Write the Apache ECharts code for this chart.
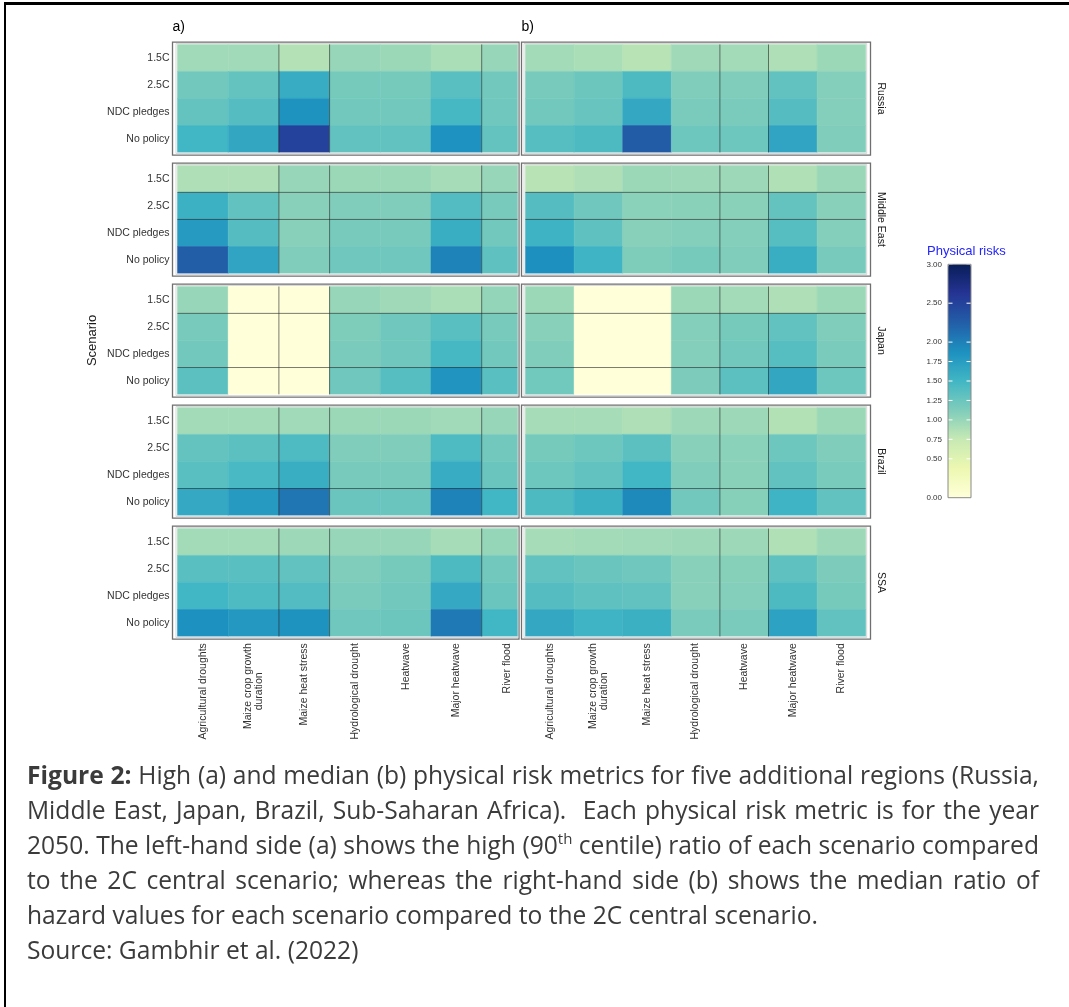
<!DOCTYPE html>
<html>
<head>
<meta charset="utf-8">
<script src="https://cdn.jsdelivr.net/npm/echarts@6/dist/echarts.min.js"></script>
<style>
html,body{margin:0;padding:0;background:#fff;overflow:hidden;width:1069px;height:1007px;}
#frame{position:absolute;left:4px;top:2px;width:1065px;height:1005px;border-left:2px solid #000;border-top:3px solid #000;box-sizing:border-box;}
#chart{position:absolute;left:0;top:0;width:1069px;height:760px;}
#caption{position:absolute;left:27px;top:757px;width:1012px;font-family:'Open Sans',sans-serif;font-size:24.6px;line-height:35px;color:#3b3b3b;}
#caption div{white-space:nowrap;}
#caption .j{white-space:normal;text-align:justify;text-align-last:justify;}
#caption sup{font-size:15px;line-height:0;vertical-align:10px;}
</style>
</head>
<body>
<div id="frame"></div>
<div id="chart"></div>
<div id="caption">
<div class="j"><b>Figure 2:</b> High (a) and median (b) physical risk metrics for five additional regions (Russia,</div>
<div class="j">Middle East, Japan, Brazil, Sub-Saharan Africa).&nbsp; Each physical risk metric is for the year</div>
<div class="j">2050. The left-hand side (a) shows the high (90<sup>th</sup> centile) ratio of each scenario compared</div>
<div class="j">to the 2C central scenario; whereas the right-hand side (b) shows the median ratio of</div>
<div>hazard values for each scenario compared to the 2C central scenario.</div>
<div>Source: Gambhir et al. (2022)</div>
</div>
<script>
// ---------------- data ----------------
const hazards = ['Agricultural droughts', 'Maize crop growth\nduration', 'Maize heat stress',
  'Hydrological drought', 'Heatwave', 'Major heatwave', 'River flood'];
const scenarios = ['1.5C', '2.5C', 'NDC pledges', 'No policy'];
const regions = ['Russia', 'Middle East', 'Japan', 'Brazil', 'SSA'];
const legendBreaks = [0, 0.5, 0.75, 1, 1.25, 1.5, 1.75, 2, 2.5, 3];

// (a) high (90th centile) ratio; rows = scenarios, columns = hazards
const highRussia = [
  [0.95, 0.95, 0.85, 1.00, 0.98, 0.90, 1.00],
  [1.20, 1.28, 1.60, 1.18, 1.18, 1.35, 1.20],
  [1.28, 1.38, 1.85, 1.20, 1.20, 1.47, 1.22],
  [1.50, 1.65, 2.50, 1.30, 1.30, 1.86, 1.28]];
const highMiddleEast = [
  [0.88, 0.88, 1.00, 0.98, 0.98, 0.92, 1.00],
  [1.55, 1.30, 1.08, 1.12, 1.12, 1.40, 1.17],
  [1.78, 1.38, 1.08, 1.17, 1.17, 1.58, 1.20],
  [2.25, 1.68, 1.12, 1.22, 1.22, 1.98, 1.32]];
const highJapan = [
  [1.00, 0, 0, 1.00, 0.96, 0.90, 1.02],
  [1.17, 0, 0, 1.13, 1.22, 1.35, 1.17],
  [1.20, 0, 0, 1.15, 1.22, 1.47, 1.20],
  [1.33, 0, 0, 1.22, 1.37, 1.83, 1.35]];
const highBrazil = [
  [0.94, 0.94, 0.95, 0.98, 0.98, 0.95, 1.00],
  [1.28, 1.33, 1.42, 1.12, 1.12, 1.42, 1.20],
  [1.35, 1.45, 1.58, 1.17, 1.17, 1.60, 1.25],
  [1.63, 1.78, 2.08, 1.25, 1.25, 1.98, 1.50]];
const highSSA = [
  [0.94, 0.94, 0.97, 1.00, 1.00, 0.92, 1.01],
  [1.35, 1.35, 1.30, 1.12, 1.18, 1.43, 1.20],
  [1.50, 1.42, 1.40, 1.15, 1.20, 1.63, 1.25],
  [1.87, 1.80, 1.85, 1.22, 1.24, 2.05, 1.50]];

// (b) median ratio
const medianRussia = [
  [0.94, 0.90, 0.83, 0.96, 0.94, 0.88, 0.98],
  [1.17, 1.24, 1.43, 1.12, 1.12, 1.30, 1.10],
  [1.20, 1.27, 1.64, 1.15, 1.15, 1.38, 1.10],
  [1.37, 1.43, 2.28, 1.23, 1.23, 1.68, 1.12]];
const medianMiddleEast = [
  [0.83, 0.88, 0.98, 0.97, 0.97, 0.87, 0.99],
  [1.38, 1.22, 1.06, 1.07, 1.07, 1.28, 1.08],
  [1.53, 1.32, 1.08, 1.10, 1.10, 1.37, 1.10],
  [1.88, 1.52, 1.13, 1.18, 1.12, 1.58, 1.17]];
const medianJapan = [
  [0.98, 0, 0, 0.98, 0.94, 0.88, 0.98],
  [1.08, 0, 0, 1.10, 1.18, 1.30, 1.12],
  [1.12, 0, 0, 1.10, 1.20, 1.37, 1.15],
  [1.21, 0, 0, 1.14, 1.33, 1.65, 1.23]];
const medianBrazil = [
  [0.92, 0.92, 0.88, 0.97, 0.97, 0.86, 0.98],
  [1.18, 1.23, 1.33, 1.08, 1.06, 1.23, 1.12],
  [1.23, 1.30, 1.50, 1.12, 1.07, 1.30, 1.16],
  [1.43, 1.56, 1.93, 1.20, 1.09, 1.52, 1.30]];
const medianSSA = [
  [0.92, 0.94, 0.95, 0.97, 0.97, 0.87, 0.97],
  [1.30, 1.25, 1.22, 1.08, 1.09, 1.32, 1.14],
  [1.38, 1.32, 1.30, 1.08, 1.10, 1.43, 1.18],
  [1.64, 1.52, 1.56, 1.15, 1.15, 1.70, 1.30]];

// dark tile seams visible in the source image (boundary indices)
const seamColsHigh = [2, 3, 6];
const seamColsMedian = [4, 5];
const seamRowsByRegion = [[], [1, 2], [1, 3], [3], []];

// ---------------- layout / style ----------------
const FONT = 'Liberation Sans, Arial, sans-serif';
const YLGNBU = ['#ffffd9', '#edf8b1', '#c7e9b4', '#7fcdbb', '#41b6c4', '#1d91c0', '#225ea8', '#253494', '#081d58'];
const panels = [
  { tag: 'a)', data: [highRussia, highMiddleEast, highJapan, highBrazil, highSSA], seams: seamColsHigh,
    left: 177.5, colW: 50.7, visRight: 518, borderL: 172.5, borderR: 519 },
  { tag: 'b)', data: [medianRussia, medianMiddleEast, medianJapan, medianBrazil, medianSSA], seams: seamColsMedian,
    left: 525.5, colW: 48.6, visRight: 865.7, borderL: 521.5, borderR: 870.5 }
];
const TOP0 = 44.3, PITCH = 121, FH = 108.3;

const grids = [], xAxes = [], yAxes = [], series = [], graphics = [], cellSeries = [];

function renderCell(params, api) {
  const c = api.coord([api.value(0), api.value(1)]);
  const s = api.size([1, 1]);
  const col = api.visual('color');
  return { type: 'rect', shape: { x: c[0] - s[0] / 2, y: c[1] - s[1] / 2, width: s[0], height: s[1] },
    style: { fill: col, stroke: col, lineWidth: 0.5 } };
}
function renderSeam(params, api) {
  const cs = params.coordSys;
  if (api.value(2) === 0) {
    const x = api.coord([api.value(0), 0])[0];
    return { type: 'line', shape: { x1: x, y1: cs.y, x2: x, y2: cs.y + cs.height },
      style: { stroke: 'rgba(35,35,35,0.6)', lineWidth: 1 } };
  }
  const i = api.value(1);
  const y = (api.coord([0, i - 1])[1] + api.coord([0, i])[1]) / 2;
  return { type: 'line', shape: { x1: cs.x, y1: y, x2: cs.x + cs.width, y2: y },
    style: { stroke: 'rgba(35,35,35,0.6)', lineWidth: 1 } };
}

panels.forEach(function (P, p) {
  const w = P.visRight - P.left;
  const xMax = -0.5 + w / P.colW;
  regions.forEach(function (reg, f) {
    const gi = grids.length;
    const top = TOP0 + f * PITCH;
    grids.push({ left: P.left, top: top, width: w, height: FH });
    xAxes.push({ type: 'value', gridIndex: gi, min: -0.5, max: xMax, show: false });
    yAxes.push({
      type: 'category', gridIndex: gi, data: scenarios, inverse: true, offset: 5,
      axisLine: { show: false },
      axisTick: { show: p === 0, alignWithLabel: true, length: 4, lineStyle: { color: '#333' } },
      axisLabel: { show: p === 0, fontSize: 10.5, color: '#333', margin: 3, fontFamily: FONT },
      splitLine: { show: false },
      name: (p === 0 && f === 2) ? 'Scenario' : '', nameLocation: 'middle', nameGap: 74,
      nameTextStyle: { fontSize: 13, color: '#1a1a1a', fontFamily: FONT }
    });
    const vals = P.data[f];
    const cells = [];
    vals.forEach(function (row, r) { row.forEach(function (v, c) { cells.push([c, r, v]); }); });
    cellSeries.push(series.length);
    series.push({ type: 'custom', name: P.tag + ' ' + reg, xAxisIndex: gi, yAxisIndex: gi, clip: true,
      silent: true, encode: { x: 0, y: 1 }, data: cells, renderItem: renderCell, z: 2 });
    const seams = [];
    P.seams.forEach(function (b) { seams.push([b - 0.5, 0, 0]); });
    seamRowsByRegion[f].forEach(function (i) { seams.push([0, i, 1]); });
    series.push({ type: 'custom', xAxisIndex: gi, yAxisIndex: gi, clip: true, silent: true,
      encode: { x: 0, y: 1 }, data: seams, renderItem: renderSeam, z: 3 });
    // panel border (outer dark grey + inner light)
    graphics.push({ type: 'rect', z: 10, shape: { x: P.borderL, y: top - 2.2, width: P.borderR - P.borderL, height: FH + 4.8 },
      style: { fill: 'none', stroke: '#6f6f6f', lineWidth: 1.3 } });
    graphics.push({ type: 'rect', z: 10, shape: { x: P.left - 1.5, y: top - 0.8, width: w + (p === 1 ? 2.5 : 1.5), height: FH + 1.8 },
      style: { fill: 'none', stroke: '#d8d8d8', lineWidth: 1 } });
    if (p === 1) {
      graphics.push({ type: 'text', x: 881, y: top + FH / 2, rotation: -Math.PI / 2,
        style: { text: reg, font: '10.5px ' + FONT, fill: '#1a1a1a', align: 'center', verticalAlign: 'middle' } });
    }
  });
  graphics.push({ type: 'text', x: P.borderL, y: 27,
    style: { text: P.tag, font: '14px ' + FONT, fill: '#000', align: 'left', verticalAlign: 'middle' } });
});

// x-axis label strips (full 7-column width) under the bottom facet
panels.forEach(function (P) {
  const gi = grids.length;
  const bottom = TOP0 + 4 * PITCH + FH + 2.6;
  grids.push({ left: P.left, top: bottom - 1, width: 7 * P.colW, height: 1 });
  xAxes.push({ type: 'category', gridIndex: gi, data: hazards, position: 'bottom',
    axisLine: { show: false },
    axisTick: { alignWithLabel: true, length: 4, lineStyle: { color: '#333' } },
    axisLabel: { interval: 0, rotate: 90, fontSize: 10.5, lineHeight: 11.5, color: '#333', margin: 4, fontFamily: FONT,
      formatter: function (v) {
        const parts = v.split('\n');
        if (parts.length < 2) return v;
        return parts[0] + '\n' + parts[1] + '          ';
      } },
    splitLine: { show: false } });
  yAxes.push({ type: 'value', gridIndex: gi, show: false });
});

// colour-bar axis
const lg = grids.length;
grids.push({ left: 948, top: 264.3, width: 23, height: 233.4, show: true, borderColor: '#8a8a8a', borderWidth: 1,
  backgroundColor: 'transparent', z: 8 });
xAxes.push({ type: 'value', gridIndex: lg, min: 0, max: 1, show: false });
yAxes.push({ type: 'value', gridIndex: lg, min: 0, max: 3, interval: 0.25,
  axisLine: { show: false }, axisTick: { show: false }, splitLine: { show: false },
  axisLabel: { fontSize: 8, color: '#333', margin: 6, fontFamily: FONT,
    formatter: function (v) { return legendBreaks.some(function (b) { return Math.abs(b - v) < 1e-6; }) ? v.toFixed(2) : ''; } } });
series.push({ type: 'custom', xAxisIndex: lg, yAxisIndex: lg, silent: true, z: 6,
  encode: { x: 0, y: 1 },
  data: legendBreaks.filter(function (b) { return b > 0; }).map(function (b) { return [0, b]; }),
  renderItem: function (params, api) {
    const cs = params.coordSys;
    const y = api.coord([0, api.value(1)])[1];
    return { type: 'group', children: [
      { type: 'line', shape: { x1: cs.x, y1: y, x2: cs.x + 4.5, y2: y }, style: { stroke: '#ffffff', lineWidth: 1 } },
      { type: 'line', shape: { x1: cs.x + cs.width - 4.5, y1: y, x2: cs.x + cs.width, y2: y }, style: { stroke: '#ffffff', lineWidth: 1 } }
    ] };
  } });
graphics.push({ type: 'text', x: 927, y: 251,
  style: { text: 'Physical risks', font: '13px ' + FONT, fill: '#2424ff', align: 'left', verticalAlign: 'middle' } });

const chart = echarts.init(document.getElementById('chart'), null, { renderer: 'canvas' });
chart.setOption({
  animation: false,
  backgroundColor: 'transparent',
  grid: grids,
  xAxis: xAxes,
  yAxis: yAxes,
  visualMap: {
    type: 'continuous', min: 0, max: 3, dimension: 2, seriesIndex: cellSeries,
    calculable: false, show: true, left: 948, top: 264.3, itemWidth: 23, itemHeight: 233.4,
    padding: 0, inRange: { color: YLGNBU }, z: 4
  },
  graphic: graphics,
  series: series
});
</script>
</body>
</html>
